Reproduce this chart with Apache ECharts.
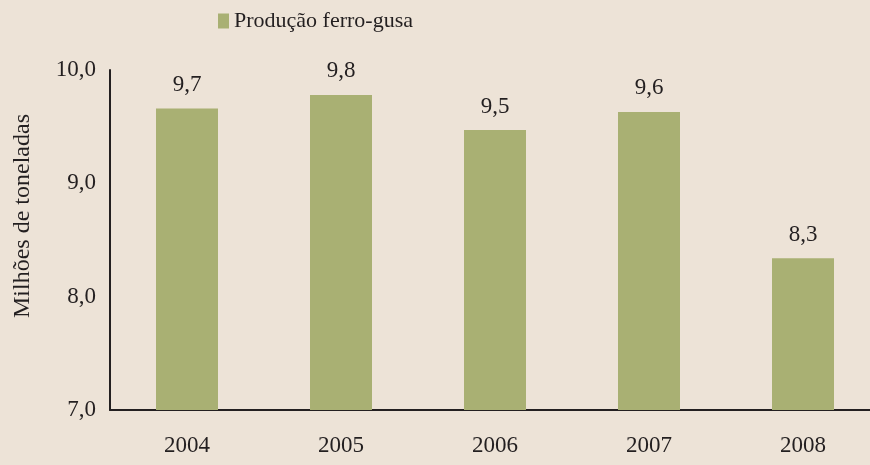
<!DOCTYPE html>
<html>
<head>
<meta charset="utf-8">
<script src="https://cdn.jsdelivr.net/npm/echarts@6/dist/echarts.min.js"></script>
<style>
  html, body { margin: 0; padding: 0; background: #ede3d7; overflow: hidden; }
  #chart { width: 880px; height: 465px; }
</style>
</head>
<body>
<div id="chart"></div>
<script>
(function(){
    // dados
    const anos = ['2004', '2005', '2006', '2007', '2008']
    const producao = [9.66, 9.78, 9.47, 9.63, 8.34]
    const yTicks = [7, 8, 9, 10]

    const fonte = '"Liberation Serif", "DejaVu Serif", serif'
    // o div tem 880px: o eixo x continua além da borda direita, como no original
    const chart = echarts.init(document.getElementById('chart'))

    const option = {
        backgroundColor: '#ede3d7',
        textStyle: { fontFamily: fonte },
        legend: {
            left: 213,
            top: 5,
            icon: 'rect',
            itemWidth: 11,
            itemHeight: 15,
            itemGap: 5,
            textStyle: { fontFamily: fonte, fontSize: 22, color: '#231f20' },
            data: ['Produção ferro-gusa']
        },
        grid: { left: 110, top: 70, right: 0, bottom: 55, containLabel: false },
        xAxis: {
            type: 'category',
            data: anos,
            axisLine: { lineStyle: { color: '#231f20', width: 2 } },
            axisTick: { show: false },
            axisLabel: { fontFamily: fonte, fontSize: 23, color: '#231f20', margin: 24 }
        },
        yAxis: {
            type: 'value',
            min: yTicks[0],
            max: yTicks[yTicks.length - 1],
            interval: 1,
            axisLine: { show: true, lineStyle: { color: '#231f20', width: 2 } },
            axisTick: { show: false },
            splitLine: { show: false },
            axisLabel: {
                fontFamily: fonte, fontSize: 23, color: '#231f20', margin: 14,
                formatter: v => v.toFixed(1).replace('.', ',')
            }
        },
        graphic: [{
            type: 'text',
            x: 23,
            y: 216,
            rotation: Math.PI / 2,
            style: {
                text: 'Milhões de toneladas',
                fontFamily: fonte,
                fontSize: 24,
                fill: '#231f20',
                align: 'center',
                verticalAlign: 'middle'
            }
        }],
        series: [{
            name: 'Produção ferro-gusa',
            type: 'bar',
            data: producao,
            barWidth: 62,
            itemStyle: { color: '#a9b073' },
            label: {
                show: true,
                position: 'top',
                distance: 12,
                fontFamily: fonte,
                fontSize: 23,
                color: '#231f20',
                formatter: p => p.value.toFixed(1).replace('.', ',')
            }
        }]
    }
    chart.setOption(option)
})()
</script>
</body>
</html>
